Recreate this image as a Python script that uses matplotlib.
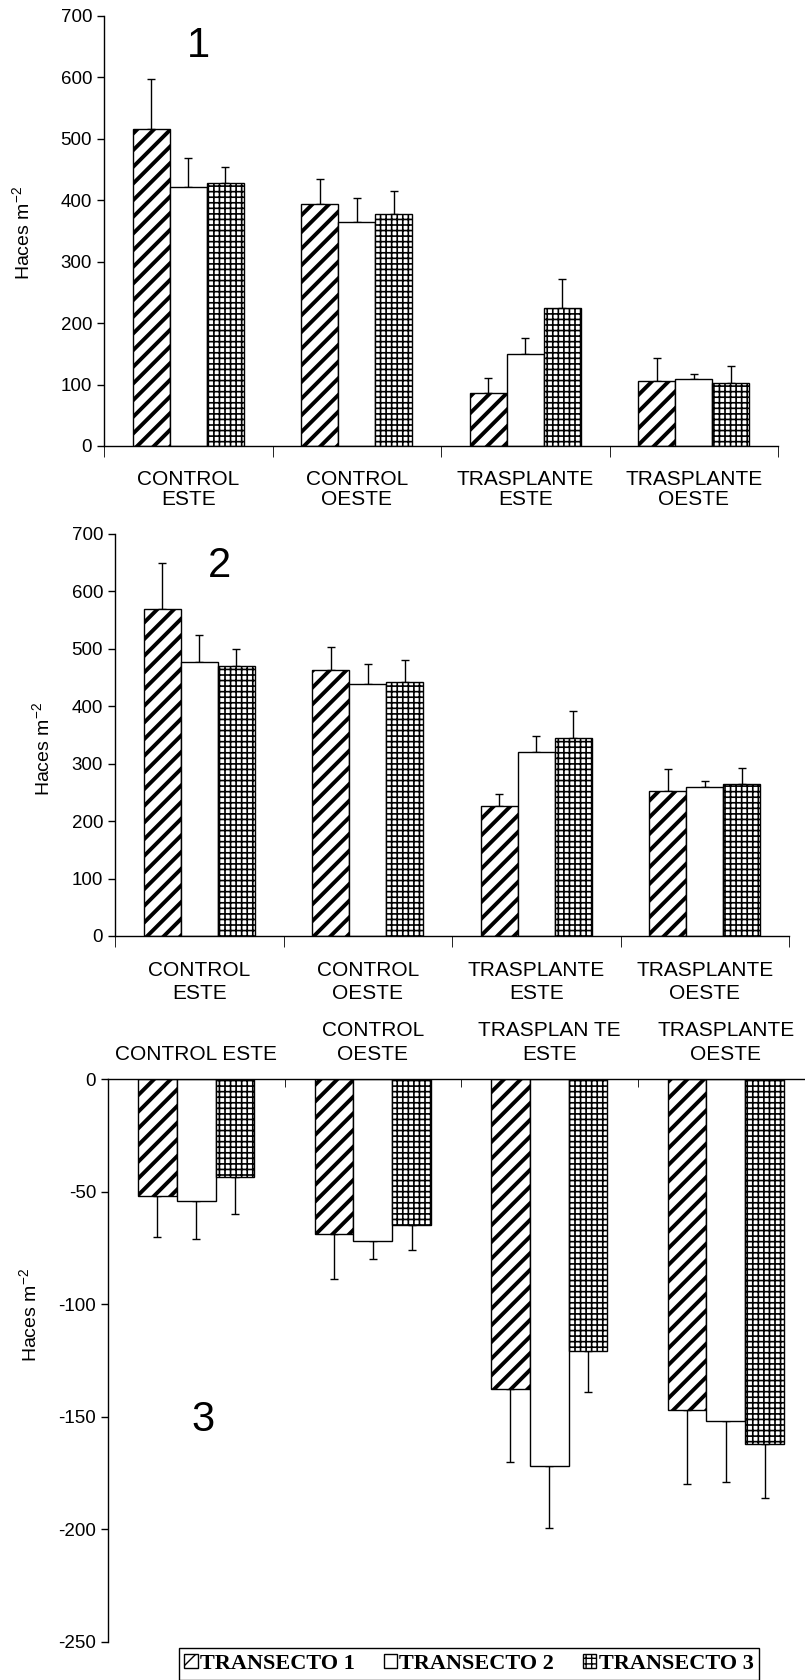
import numpy as np
import matplotlib.pyplot as plt
from matplotlib.patches import Patch

plt.rcParams['font.family'] = 'Liberation Sans'
plt.rcParams['axes.unicode_minus'] = False
plt.rcParams['mathtext.fontset'] = 'custom'
plt.rcParams['mathtext.rm'] = 'Liberation Sans'
plt.rcParams['mathtext.default'] = 'regular'

categories = ['CONTROL\nESTE', 'CONTROL\nOESTE', 'TRASPLANTE\nESTE', 'TRASPLANTE\nOESTE']
categories_3 = ['CONTROL ESTE', 'CONTROL\nOESTE', 'TRASPLAN TE\nESTE', 'TRASPLANTE\nOESTE']
series = ['TRANSECTO 1', 'TRANSECTO 2', 'TRANSECTO 3']

# panel 1
p1_t1 = [516, 394, 86, 106]
p1_t2 = [422, 365, 149, 109]
p1_t3 = [428, 378, 224, 102]
p1_e1 = [81, 40, 25, 37]
p1_e2 = [47, 38, 27, 9]
p1_e3 = [27, 37, 48, 29]

# panel 2
p2_t1 = [569, 463, 226, 253]
p2_t2 = [477, 438, 321, 260]
p2_t3 = [471, 443, 345, 265]
p2_e1 = [80, 40, 22, 37]
p2_e2 = [48, 36, 27, 10]
p2_e3 = [29, 38, 47, 28]

# panel 3 (differences)
p3_t1 = [-52, -69, -137.5, -147]
p3_t2 = [-54, -72, -172, -152]
p3_t3 = [-43.6, -65, -121, -162]
p3_e1 = [18, 20, 32.5, 33]
p3_e2 = [17, 8, 27.5, 27]
p3_e3 = [16.4, 11, 18, 24]

hatches = ['//', '', '+++']
hatch_lw = [2.8, 1.0, 1.2]

fig = plt.figure(figsize=(8.05, 16.8), dpi=100)


def draw_bars(ax, vals, errs, up=True):
    x = np.arange(len(categories))
    w = 0.22
    for i in range(3):
        v = np.array(vals[i])
        e = np.array(errs[i])
        with plt.rc_context({'hatch.linewidth': hatch_lw[i]}):
            bars = ax.bar(x + (i - 1) * w, v, width=w, color='white', edgecolor='black',
                          linewidth=1, hatch=hatches[i], zorder=2)
        for b in bars:
            if hasattr(b, 'set_hatch_linewidth'):
                b.set_hatch_linewidth(hatch_lw[i])
        if up:
            yerr = [np.zeros(len(e)), e]
        else:
            yerr = [e, np.zeros(len(e))]
        ax.errorbar(x + (i - 1) * w, v, yerr=yerr, fmt='none', ecolor='black',
                    elinewidth=1, capsize=3, capthick=1, zorder=1)
    ax.set_xlim(-0.5, 3.5)
    ax.set_xticks(x)
    ax.set_xticks(np.arange(-0.5, 4, 1), minor=True)
    ax.tick_params(axis='x', which='major', length=0)
    ax.tick_params(axis='y', labelsize=13.5, length=5, width=1)
    for s in ax.spines.values():
        s.set_linewidth(1)


# ---- panel 1
ax1 = fig.add_axes([104 / 805, 1 - 446 / 1680, 674 / 805, 430 / 1680])
draw_bars(ax1, [p1_t1, p1_t2, p1_t3], [p1_e1, p1_e2, p1_e3])
ax1.set_ylim(0, 700)
ax1.set_yticks(range(0, 701, 100))
ax1.set_xticklabels(categories, fontsize=15, linespacing=1.1)
ax1.tick_params(axis='x', which='major', pad=17)
ax1.tick_params(axis='x', which='minor', length=8, direction='out')
ax1.spines['top'].set_visible(False)
ax1.spines['right'].set_visible(False)
ax1.set_ylabel('Haces m$^{-2}$', fontsize=14)
ax1.yaxis.set_label_coords(-0.105, 0.496)
ax1.text(0.06, 651, '1', fontsize=30, ha='center', va='center')

# ---- panel 2
ax2 = fig.add_axes([115 / 805, 1 - 936 / 1680, 674 / 805, 402 / 1680])
draw_bars(ax2, [p2_t1, p2_t2, p2_t3], [p2_e1, p2_e2, p2_e3])
ax2.set_ylim(0, 700)
ax2.set_yticks(range(0, 701, 100))
ax2.set_xticklabels(categories, fontsize=15, linespacing=1.25)
ax2.tick_params(axis='x', which='major', pad=18)
ax2.tick_params(axis='x', which='minor', length=8, direction='out')
ax2.spines['top'].set_visible(False)
ax2.spines['right'].set_visible(False)
ax2.set_ylabel('Haces m$^{-2}$', fontsize=14)
ax2.yaxis.set_label_coords(-0.092, 0.464)
ax2.text(0.12, 645, '2', fontsize=30, ha='center', va='center')

# ---- panel 3
ax3 = fig.add_axes([108 / 805, 1 - 1642 / 1680, 706 / 805, 563 / 1680])
draw_bars(ax3, [p3_t1, p3_t2, p3_t3], [p3_e1, p3_e2, p3_e3], up=False)
ax3.set_ylim(-250, 0)
ax3.set_yticks(range(-250, 1, 50))
ax3.xaxis.tick_top()
ax3.set_xticklabels(categories_3, fontsize=15, linespacing=1.3)
ax3.tick_params(axis='x', which='major', pad=11)
ax3.tick_params(axis='x', which='minor', length=6, direction='in')
ax3.spines['bottom'].set_visible(False)
ax3.spines['right'].set_visible(False)
ax3.set_ylabel('Haces m$^{-2}$', fontsize=14)
ax3.yaxis.set_label_coords(-0.096, 0.58)
ax3.text(0.04, -151.6, '3', fontsize=30, ha='center', va='center')

handles = []
for i in range(3):
    with plt.rc_context({'hatch.linewidth': hatch_lw[i]}):
        h = Patch(facecolor='white', edgecolor='black', hatch=hatches[i], label=series[i])
    if hasattr(h, 'set_hatch_linewidth'):
        h.set_hatch_linewidth(hatch_lw[i])
    handles.append(h)
leg = fig.legend(handles=handles, loc='center', bbox_to_anchor=(0.5826, 0.0095), ncol=3,
                 prop={'family': 'Liberation Serif', 'weight': 'bold', 'size': 16},
                 handlelength=0.6, handleheight=0.6, handletextpad=0.1, columnspacing=1.3,
                 borderpad=0.25, fancybox=False, edgecolor='black', framealpha=1)
leg.get_frame().set_linewidth(1)

fig.savefig('out.png', dpi=100, facecolor='white')
